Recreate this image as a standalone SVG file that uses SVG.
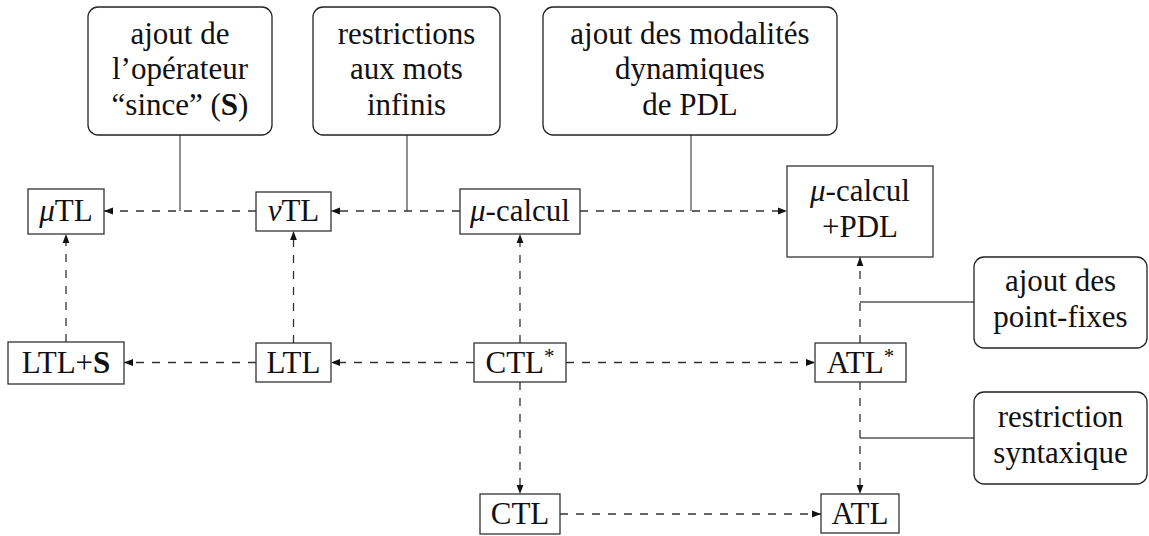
<svg xmlns="http://www.w3.org/2000/svg" width="1149" height="536" viewBox="0 0 1149 536">
<style>
  text { font-family: "Liberation Serif", "DejaVu Serif", serif; font-size: 31px; fill: #111; text-anchor: middle; }
  .node rect { fill: #fff; stroke: #333; stroke-width: 1.3; }
  .note rect { fill: #fff; stroke: #222; stroke-width: 1.3; }
  .dash { fill: none; stroke: #333; stroke-width: 1.3; stroke-dasharray: 8 8; marker-end: url(#ah); }
  .link { fill: none; stroke: #555; stroke-width: 1.3; }
  .it { font-style: italic; }
  .b { font-weight: bold; }
</style>
<defs>
  <marker id="ah" markerUnits="userSpaceOnUse" markerWidth="10" markerHeight="8" refX="9" refY="4" orient="auto">
    <path d="M0,0.6 L9,4 L0,7.4 Z" fill="#111"/>
  </marker>
</defs>
<rect width="1149" height="536" fill="#fff"/>

<g id="connectors">
  <path class="link" d="M180,135 V211"/>
  <path class="link" d="M407,135 V211"/>
  <path class="link" d="M691,135 V211"/>
  <path class="link" d="M974,302 H860"/>
  <path class="link" d="M974,438 H860"/>
  <path class="dash" d="M256,211 H104"/>
  <path class="dash" d="M460,211 H331"/>
  <path class="dash" d="M580,211 H787"/>
  <path class="dash" d="M66,342 V234"/>
  <path class="dash" d="M293.5,343 V231"/>
  <path class="dash" d="M520,343 V234"/>
  <path class="dash" d="M860,343 V257"/>
  <path class="dash" d="M256,362.5 H124"/>
  <path class="dash" d="M474,362.5 H331"/>
  <path class="dash" d="M566,362.5 H815"/>
  <path class="dash" d="M520,382 V494"/>
  <path class="dash" d="M860,382 V494"/>
  <path class="dash" d="M560,514 H821"/>
</g>

<g id="note-since" class="note">
  <rect x="88" y="7" width="184" height="128" rx="10"/>
  <text x="180" y="44">ajout de</text>
  <text x="180" y="79">l’opérateur</text>
  <text x="180" y="115">“since” (<tspan class="b">S</tspan>)</text>
</g>
<g id="note-infinis" class="note">
  <rect x="313" y="7" width="187" height="128" rx="10"/>
  <text x="406.5" y="44">restrictions</text>
  <text x="406.5" y="79">aux mots</text>
  <text x="406.5" y="115">infinis</text>
</g>
<g id="note-pdl" class="note">
  <rect x="543" y="7" width="294" height="128" rx="10"/>
  <text x="690" y="44">ajout des modalités</text>
  <text x="690" y="79">dynamiques</text>
  <text x="690" y="115">de PDL</text>
</g>
<g id="note-fixes" class="note">
  <rect x="974" y="257" width="173" height="91" rx="10"/>
  <text x="1060.5" y="291">ajout des</text>
  <text x="1060.5" y="327">point-fixes</text>
</g>
<g id="note-syntax" class="note">
  <rect x="974" y="392" width="173" height="92" rx="10"/>
  <text x="1060.5" y="427">restriction</text>
  <text x="1060.5" y="463">syntaxique</text>
</g>

<g id="muTL" class="node">
  <rect x="28" y="189" width="76" height="45"/>
  <text x="66" y="221"><tspan class="it">μ</tspan>TL</text>
</g>
<g id="nuTL" class="node">
  <rect x="256" y="192" width="75" height="39"/>
  <text x="293.5" y="221"><tspan class="it">ν</tspan>TL</text>
</g>
<g id="mucalcul" class="node">
  <rect x="460" y="189" width="120" height="45"/>
  <text x="520" y="221"><tspan class="it">μ</tspan>-calcul</text>
</g>
<g id="mucalculPDL" class="node">
  <rect x="787" y="166" width="146" height="91"/>
  <text x="860" y="201"><tspan class="it">μ</tspan>-calcul</text>
  <text x="860" y="237">+PDL</text>
</g>
<g id="LTLS" class="node">
  <rect x="8" y="342" width="116" height="42"/>
  <text x="66" y="373">LTL+<tspan class="b">S</tspan></text>
</g>
<g id="LTL" class="node">
  <rect x="256" y="343" width="75" height="39"/>
  <text x="293.5" y="373">LTL</text>
</g>
<g id="CTLstar" class="node">
  <rect x="474" y="343" width="92" height="39"/>
  <text x="520" y="373">CTL<tspan dy="-10" font-size="21">*</tspan></text>
</g>
<g id="ATLstar" class="node">
  <rect x="815" y="343" width="91" height="39"/>
  <text x="860.5" y="373">ATL<tspan dy="-10" font-size="21">*</tspan></text>
</g>
<g id="CTL" class="node">
  <rect x="480" y="494" width="80" height="40"/>
  <text x="520" y="524">CTL</text>
</g>
<g id="ATL" class="node">
  <rect x="821" y="494" width="78" height="39"/>
  <text x="860" y="524">ATL</text>
</g>
</svg>
